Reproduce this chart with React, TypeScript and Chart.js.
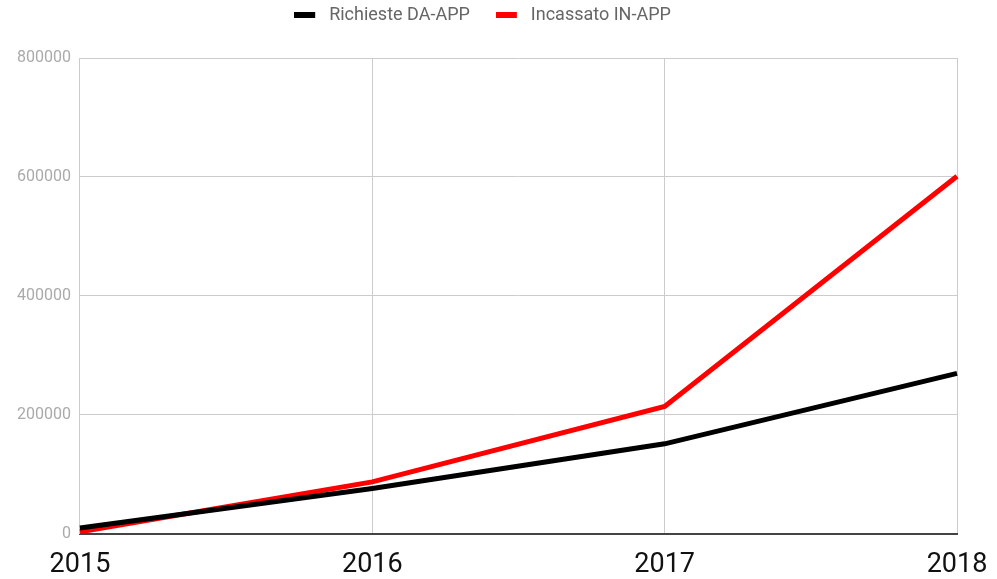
import React, { useEffect, useRef } from "react";
import { Chart, registerables } from "chart.js";

Chart.register(...registerables);

const years = ["2015", "2016", "2017", "2018"];
const richieste = [9500, 76000, 151000, 269500];
const incassato = [3000, 87000, 214000, 601000];
const yTicks = [0, 200000, 400000, 600000, 800000];
const seriesColors = ["#000000", "#ff0000"];

const legendMargin = {
  id: "legendMargin",
  beforeInit(chart: any) {
    const legend = chart.legend;
    if (!legend) return;
    const origFit = legend.fit;
    legend.fit = function () {
      origFit.bind(legend)();
      this.height += 24;
    };
  },
};

function makeSwatch(color: string): HTMLCanvasElement {
  const c = document.createElement("canvas");
  c.width = 26;
  c.height = 6;
  const ctx = c.getContext("2d");
  if (ctx) {
    ctx.fillStyle = color;
    ctx.fillRect(0, 0, 21, 6);
  }
  return c;
}

export default function App() {
  const ref = useRef<HTMLCanvasElement | null>(null);
  useEffect(() => {
    if (!ref.current) return;
    const swatches = seriesColors.map(makeSwatch);
    const chart = new Chart(ref.current, {
      type: "line",
      data: {
        labels: years,
        datasets: [
          {
            label: "Richieste DA-APP",
            data: richieste,
            borderColor: seriesColors[0],
            backgroundColor: seriesColors[0],
            borderWidth: 5,
            pointRadius: 0,
            tension: 0,
          },
          {
            label: "Incassato IN-APP",
            data: incassato,
            borderColor: seriesColors[1],
            backgroundColor: seriesColors[1],
            borderWidth: 5,
            pointRadius: 0,
            tension: 0,
          },
        ],
      },
      plugins: [legendMargin],
      options: {
        animation: false,
        responsive: false,
        maintainAspectRatio: false,
        layout: { padding: { left: 8, right: 40, top: -20, bottom: -2 } },
        plugins: {
          tooltip: { enabled: false },
          legend: {
            position: "top",
            labels: {
              usePointStyle: true,
              pointStyleWidth: 26,
              boxHeight: 6,
              color: "#666666",
              padding: 26,
              font: { family: "Roboto", size: 18 },
              generateLabels: (c: any) =>
                Chart.defaults.plugins.legend.labels
                  .generateLabels(c)
                  .map((l: any, i: number) => ({ ...l, lineWidth: 0, pointStyle: swatches[i] })),
            },
          },
        },
        scales: {
          x: {
            offset: false,
            grid: {
              color: "#cccccc",
              drawTicks: true,
              tickLength: 15,
              tickColor: "rgba(0,0,0,0)",
              lineWidth: 1,
            },
            border: { color: "#444444", width: 2 },
            ticks: {
              color: "#111111",
              padding: 0,
              maxRotation: 0,
              font: { family: "Roboto", size: 27 },
            },
          },
          y: {
            min: 0,
            max: 800000,
            afterBuildTicks: (axis: any) => {
              axis.ticks = yTicks.map((v) => ({ value: v }));
            },
            grid: { color: "#cccccc", drawTicks: false, lineWidth: 1 },
            border: { color: "#cccccc", width: 1 },
            ticks: {
              color: "#aaaaaa",
              padding: 9,
              font: { family: "Roboto", size: 16 },
              callback: (v: any) => String(v),
            },
          },
        },
      },
    });
    return () => chart.destroy();
  }, []);
  return (
    <div style={{ position: "absolute", left: 0, top: 0, width: 997, height: 579, background: "#fff" }}>
      <canvas ref={ref} width={997} height={579} style={{ width: 997, height: 579 }} />
    </div>
  );
}
